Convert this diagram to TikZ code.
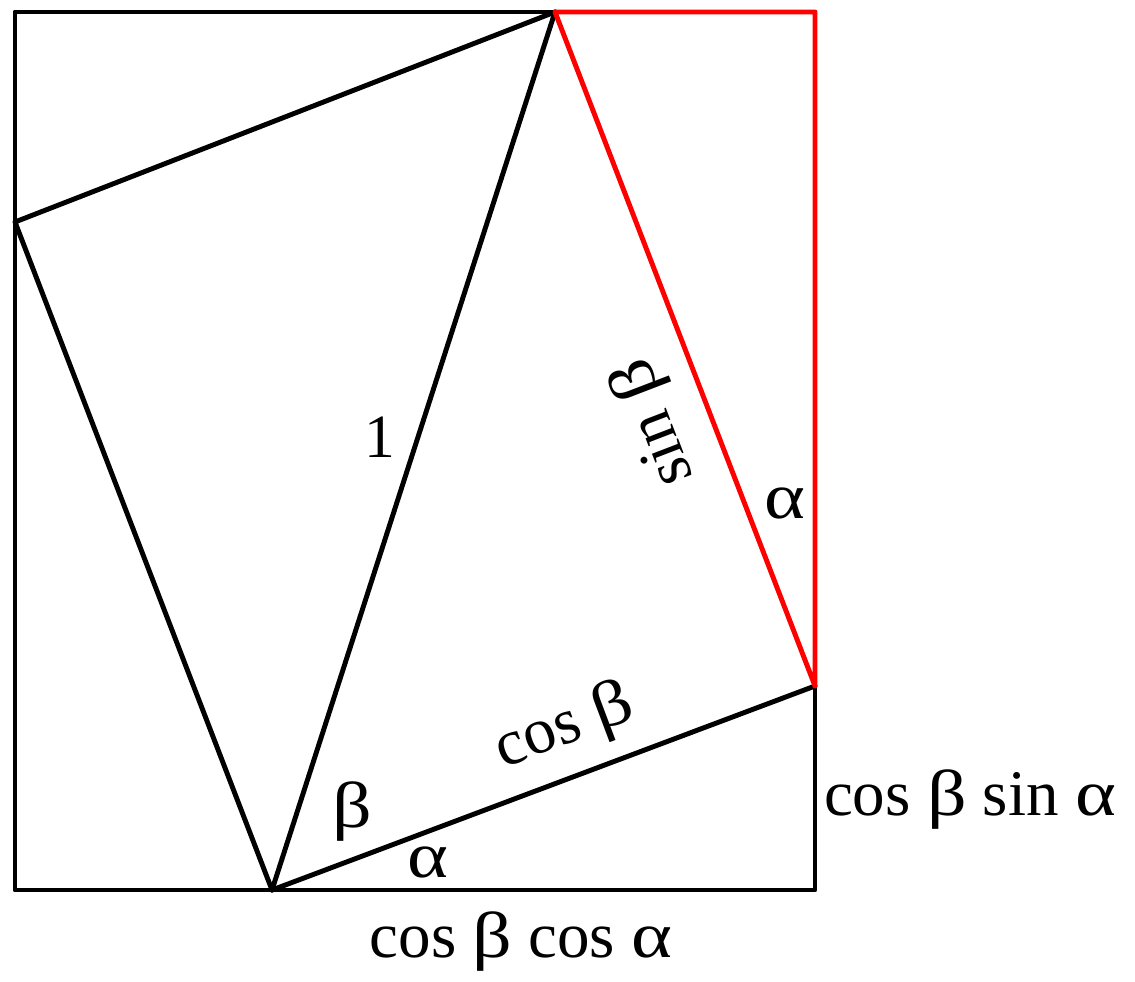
\documentclass[tikz,border=0pt]{standalone}
\usepackage{fontspec}
\setmainfont{Liberation Serif}
\newcommand{\gk}[1]{\scalebox{1.2}[1]{#1}}
\begin{document}
\begin{tikzpicture}[x=0.02cm,y=-0.02cm,
  edge/.style={line width=2.8pt,line cap=round,line join=round,black},
  rededge/.style={line width=2.8pt,line cap=round,line join=round,red},
  lbl/.style={inner sep=0pt,font=\fontsize{37}{42}\selectfont}]
\useasboundingbox (0,0) rectangle (1135,982);
\coordinate (TL) at (15,12);
\coordinate (TR) at (815,12);
\coordinate (BR) at (815,890);
\coordinate (BL) at (15,890);
\coordinate (A) at (272,890);
\coordinate (B) at (815,686);
\coordinate (C) at (555,12);
\coordinate (D) at (15,222);
\draw[edge] (TL) -- (TR) -- (BR) -- (BL) -- cycle;
\draw[edge] (A) -- (B);
\draw[edge] (A) -- (C);
\draw[edge] (A) -- (D) -- (C);
\draw[rededge] (C) -- (TR) -- (B) -- cycle;
\node[lbl,font=\fontsize{35}{40}\selectfont] (one) at (380,437) {1};
\node[lbl,rotate=111] (sinb) at (655,422) {sin \gk{β}};
\node[lbl] (ar) at (785,503) {\gk{α}};
\node[lbl,rotate=20.6] (cosb) at (565,728) {cos \gk{β}};
\node[lbl] (bb) at (352,812) {\gk{β}};
\node[lbl] (ab) at (428,862) {\gk{α}};
\node[lbl] (cbsa) at (970,800) {cos \gk{β} sin \gk{α}};
\node[lbl] (cbca) at (521,942) {cos \gk{β} cos \gk{α}};
\end{tikzpicture}
\end{document}
